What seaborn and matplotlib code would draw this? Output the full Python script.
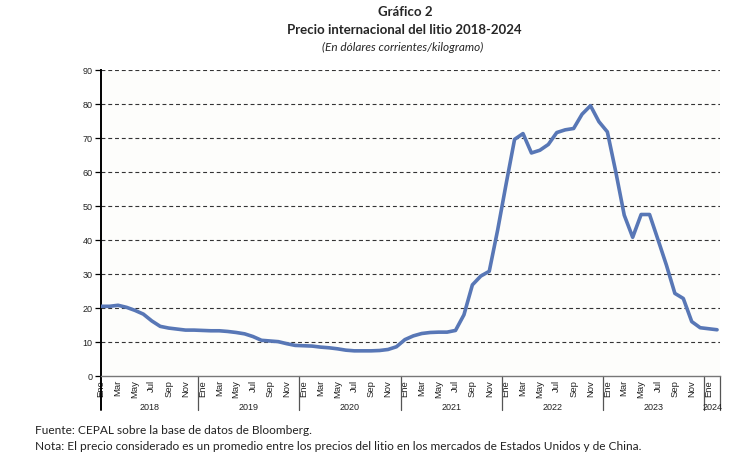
import matplotlib
matplotlib.use('Agg')
import matplotlib.pyplot as plt
import matplotlib.transforms as mtransforms
import pandas as pd
import seaborn as sns

# monthly lithium price, Jan 2018 - Feb 2024 (USD/kg)
years = ['2018', '2019', '2020', '2021', '2022', '2023', '2024']
month_names = ['Ene', 'Feb', 'Mar', 'Abr', 'May', 'Jun',
               'Jul', 'Ago', 'Sep', 'Oct', 'Nov', 'Dic']
price_2018 = [20.5, 20.5, 20.8, 20.2, 19.3, 18.2, 16.2, 14.6, 14.1, 13.8, 13.5, 13.5]
price_2019 = [13.4, 13.3, 13.3, 13.1, 12.8, 12.4, 11.6, 10.5, 10.3, 10.1, 9.5, 9.0]
price_2020 = [8.9, 8.8, 8.5, 8.3, 8.0, 7.6, 7.4, 7.4, 7.4, 7.5, 7.8, 8.6]
price_2021 = [10.7, 11.8, 12.5, 12.8, 12.9, 12.9, 13.4, 18.0, 26.8, 29.4, 30.8, 43.0]
price_2022 = [56.5, 69.6, 71.3, 65.6, 66.4, 68.1, 71.6, 72.4, 72.8, 77.0, 79.5, 74.8]
price_2023 = [71.8, 60.0, 47.3, 40.8, 47.5, 47.5, 40.1, 32.6, 24.3, 22.8, 16.0, 14.2]
price_2024 = [13.9, 13.6]

prices = price_2018 + price_2019 + price_2020 + price_2021 + price_2022 + price_2023 + price_2024
n = len(prices)
df = pd.DataFrame({'idx': range(n), 'precio': prices})

sns.set_style('white')
plt.rcParams['font.family'] = ['Liberation Sans', 'DejaVu Sans']

fig = plt.figure(figsize=(7.54, 4.61), dpi=100)
W, H = 754, 461
left, right, top, bottom = 101, 720, 70, 376
ax = fig.add_axes([left / W, 1 - bottom / H, (right - left) / W, (bottom - top) / H])
ax.set_facecolor('#fdfdfb')

sns.lineplot(data=df, x='idx', y='precio', color='#5877b6', linewidth=2.6,
             ax=ax, zorder=3)

ax.set_xlim(-0.02, n - 1 + 0.35)
ax.set_ylim(0, 90)
ax.set_yticks(range(0, 91, 10))
ax.set_yticklabels([str(v) for v in range(0, 91, 10)], fontsize=6.5, color='#222222')
ax.tick_params(axis='y', direction='out', length=4, width=0.9, color='black', pad=2, left=True)

for v in range(10, 91, 10):
    ax.axhline(v, color='#333333', linewidth=0.8, linestyle=(0, (3.5, 2.6)), zorder=1)

ticks = list(range(0, n, 2))
ax.set_xticks(ticks)
ax.set_xticklabels([month_names[i % 12] for i in ticks], rotation=90,
                   fontsize=6.8, color='#222222', va='top', ha='center')
ax.tick_params(axis='x', length=0, pad=3)
ax.set_xlabel('')
ax.set_ylabel('')

for s in ['top', 'right']:
    ax.spines[s].set_visible(False)
ax.spines['left'].set_color('black')
ax.spines['left'].set_linewidth(1.4)
ax.spines['bottom'].set_color('#777777')
ax.spines['bottom'].set_linewidth(1.0)

# category label area: separators and year labels
trans = mtransforms.blended_transform_factory(ax.transData, ax.transAxes)
depth = -(410 - bottom) / (bottom - top)
ax.plot([-0.02, -0.02], [0, depth], transform=trans, color='black',
        linewidth=1.4, clip_on=False)
seps = [11.5 + 12 * k for k in range(6)] + [n - 1 + 0.35]
for s in seps:
    ax.plot([s, s], [0, depth], transform=trans, color='#555555',
            linewidth=0.9, clip_on=False)
bounds = [-0.02] + seps
for k, y in enumerate(years):
    xc = (bounds[k] + bounds[k + 1]) / 2
    ax.text(xc, -(407 - bottom) / (bottom - top), y, transform=trans,
            ha='center', va='center', fontsize=6.5, color='#222222')

# titles
fig.text(405 / W, 1 - 12 / H, 'Gráfico 2', ha='center', va='center',
         fontsize=9.5, fontweight='bold', family=['Lato', 'DejaVu Sans'])
fig.text(404 / W, 1 - 30 / H, 'Precio internacional del litio 2018-2024',
         ha='center', va='center', fontsize=9.5, fontweight='bold',
         family=['Lato', 'DejaVu Sans'])
fig.text(403 / W, 1 - 47 / H, '(En dólares corrientes/kilogramo)',
         ha='center', va='center', fontsize=8.5, style='italic',
         family=['Lato', 'DejaVu Sans'])

# notes
fig.text(35 / W, 1 - 430 / H, 'Fuente: CEPAL sobre la base de datos de Bloomberg.',
         ha='left', va='center', fontsize=8.6, family=['Lato', 'DejaVu Sans'], color='#222222')
fig.text(35 / W, 1 - 446 / H,
         'Nota: El precio considerado es un promedio entre los precios del litio en los mercados de Estados Unidos y de China.',
         ha='left', va='center', fontsize=8.6, family=['Lato', 'DejaVu Sans'], color='#222222')

fig.savefig('out.png', dpi=100)
